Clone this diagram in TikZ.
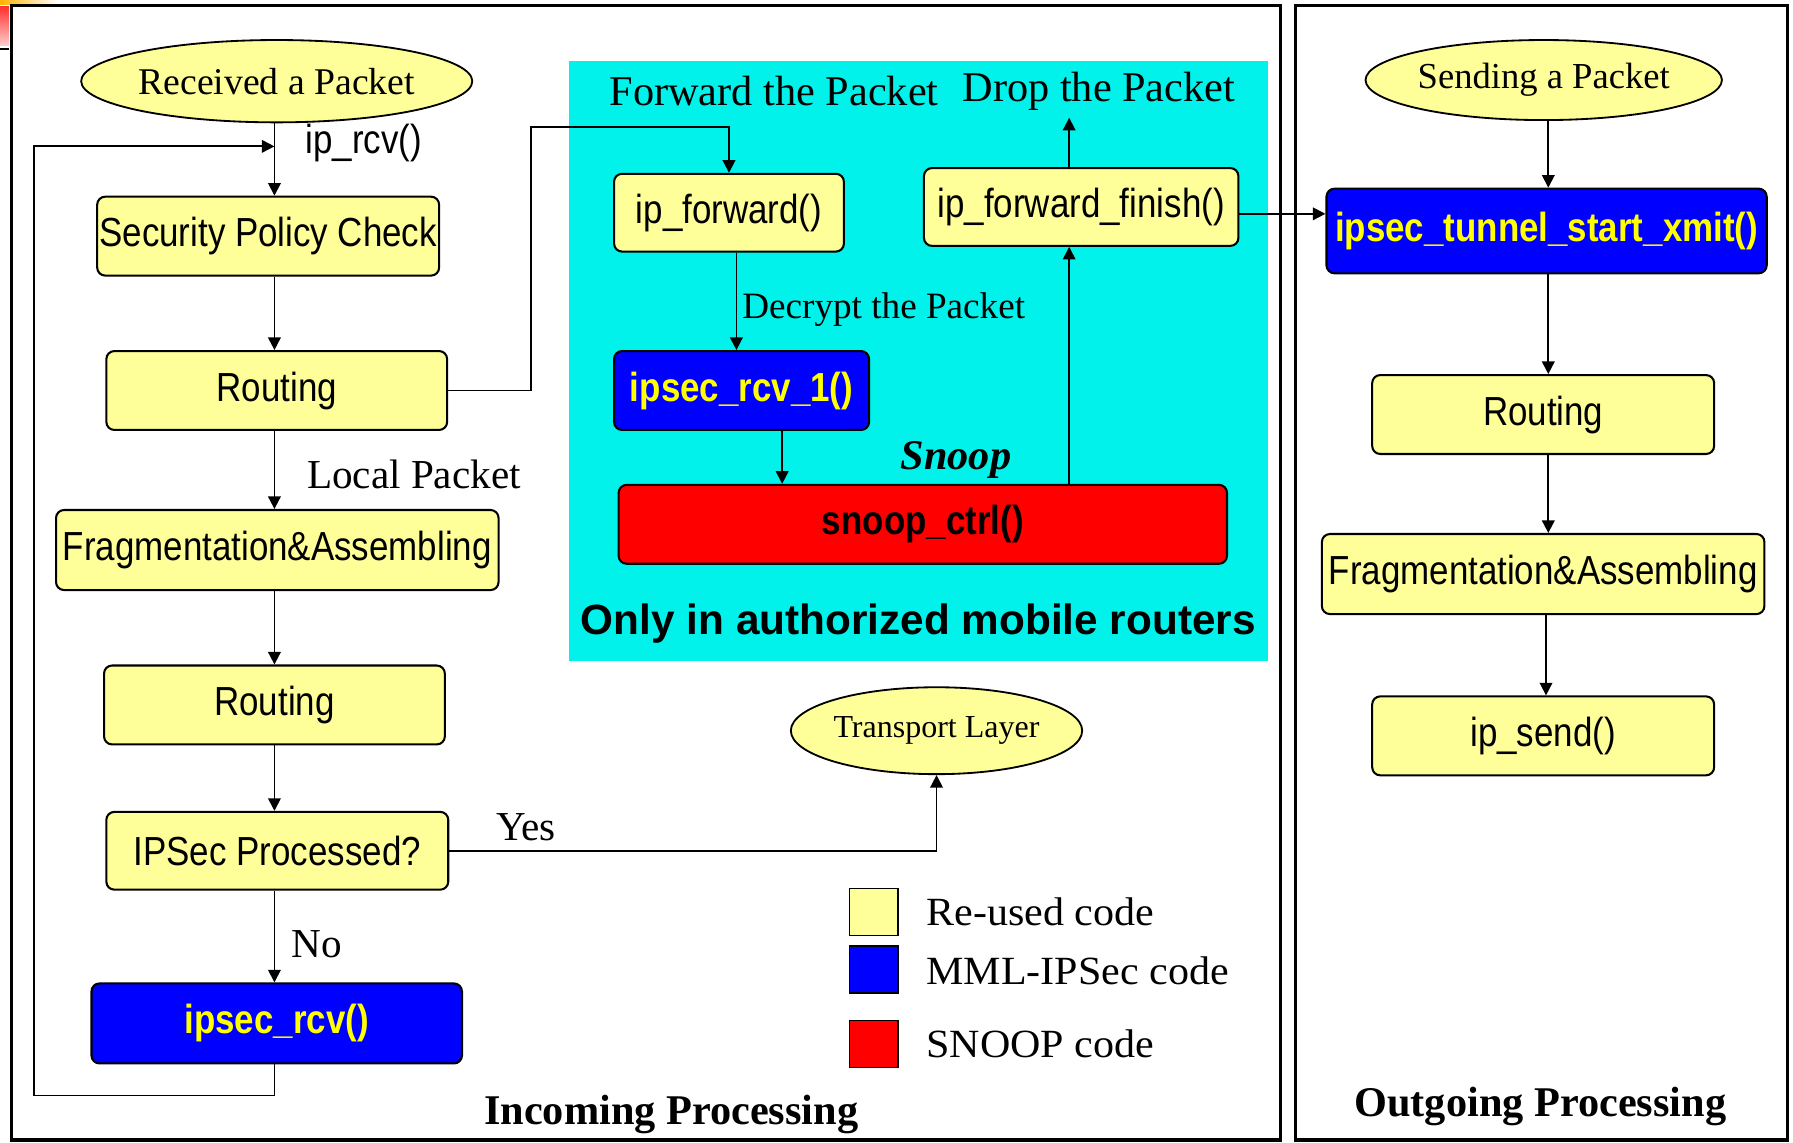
\documentclass[tikz,border=0pt]{standalone}
\usepackage{fontspec}
\setmainfont{Liberation Serif}
\newfontfamily\NarSans[FakeStretch=0.86]{Liberation Sans}
\newfontfamily\RegSans{Liberation Sans}
\newfontfamily\WideSerif[FakeStretch=1.05]{Liberation Serif}
\usetikzlibrary{shapes.geometric,arrows.meta}
\definecolor{ylw}{HTML}{FFFF99}
\definecolor{blu}{HTML}{0000FF}
\definecolor{rd}{HTML}{FF0000}
\definecolor{cyn}{HTML}{00F2EA}
\definecolor{txty}{HTML}{FFFF00}
\newcommand{\NarBox}{\NarSans\fontsize{35.5}{40}\selectfont}
\newcommand{\SerLab}{\fontsize{36}{40}\selectfont}
\tikzset{
  box/.style={draw, line width=1.8pt, rounded corners=7pt, fill=ylw, inner sep=0pt},
  bluebox/.style={box, fill=blu, text=txty},
  redbox/.style={box, fill=rd, text=black},
  oval/.style={ellipse, draw, line width=1.6pt, fill=ylw, inner sep=0pt},
  arr/.style={line width=1.6pt, -{Triangle[length=11pt,width=11pt]}},
  frame/.style={draw, line width=3pt},
  lab/.style={inner sep=0pt},
  legsq/.style={draw, line width=1.5pt, minimum width=42pt, minimum height=41pt, inner sep=0pt}
}
\begin{document}
\begin{tikzpicture}[x=1pt,y=-1pt]
\useasboundingbox (0,0) rectangle (1568,999);
\fill[white] (0,0) rectangle (1568,999);
% slide artifact top-left
\shade[left color=orange!60!yellow, right color=white] (0,0) rectangle (50,4);
\shade[top color=red!80, bottom color=red!20] (0,6) rectangle (8,40);
\draw[line width=2pt] (0,43) -- (8,43);
% frames
\draw[frame] (10,5) rectangle (1120,997);
\draw[frame] (1133,5) rectangle (1563,997);
% cyan region
\fill[cyn] (498,53) rectangle (1109,578);

% ---------- incoming column ----------
\node[oval, minimum width=255pt, minimum height=72pt] (rcv) at (242,71) {\fontsize{33}{37}\selectfont Received a Packet};
\node[box, minimum width=299pt, minimum height=69pt] (sec) at (234.5,206.5) {\NarBox Security Policy Check};
\node[box, minimum width=298pt, minimum height=69pt] (rt1) at (242,341.5) {\NarBox Routing};
\node[box, minimum width=387pt, minimum height=70pt] (frag1) at (242.5,481) {\NarBox Fragmentation\&Assembling};
\node[box, minimum width=298pt, minimum height=69pt] (rt2) at (240,616.5) {\NarBox Routing};
\node[box, minimum width=299pt, minimum height=68pt] (ipp) at (242.5,744) {\NarBox IPSec Processed?};
\node[bluebox, minimum width=324pt, minimum height=70pt] (irc) at (242,895) {\NarBox\bfseries ipsec\_rcv()};
\node[oval, minimum width=250pt, minimum height=76pt] (trans) at (819,639) {\fontsize{28}{32}\selectfont Transport Layer};

\coordinate (colL) at (240,0);
\draw[arr] (rcv.south -| colL) -- (sec.north -| colL);
\draw[arr] (sec.south -| colL) -- (rt1.north -| colL);
\draw[arr] (rt1.south -| colL) -- (frag1.north -| colL);
\draw[arr] (frag1.south -| colL) -- (rt2.north -| colL);
\draw[arr] (rt2.south -| colL) -- (ipp.north -| colL);
\draw[arr] (ipp.south -| colL) -- (irc.north -| colL);
\coordinate (lb) at (30,958);
\coordinate (lt) at (30,128);
\coordinate (lj) at (240,128);
\draw[arr] (irc.south -| colL) |- (lb) -- (lt) -- (lj);
\draw[arr] (ipp.east) -| (trans.south);

\node[lab] (iprcv) at (318,125) {\NarBox ip\_rcv()};
\node[lab] (local) at (362,415) {\SerLab Local Packet};
\node[lab] (yes) at (460,723) {\SerLab Yes};
\node[lab] (no) at (277,826) {\SerLab No};

% ---------- cyan region ----------
\node[box, minimum width=201pt, minimum height=68pt] (ipf) at (637.5,186) {\NarBox ip\_forward()};
\node[box, minimum width=275pt, minimum height=68pt] (ipff) at (945.5,181) {\NarBox ip\_forward\_finish()};
\node[bluebox, minimum width=223pt, minimum height=69pt] (ir1) at (648.5,341.5) {\NarBox\bfseries ipsec\_rcv\_1()};
\node[redbox, minimum width=532pt, minimum height=69pt] (snp) at (807,458.5) {\NarBox\bfseries snoop\_ctrl()};

\node[lab] (fwd) at (677,80) {\fontsize{37}{40}\selectfont Forward the Packet};
\node[lab] (drop) at (961,80) {\fontsize{37}{40}\selectfont Drop the Packet};
\node[lab, anchor=west] (decr) at (649,271) {\fontsize{32.5}{36}\selectfont Decrypt the Packet};
\node[lab] (snooplab) at (836,402) {\fontsize{37}{40}\selectfont\bfseries\itshape Snoop};
\node[lab] (only) at (803,545) {\RegSans\fontsize{37}{40}\selectfont\bfseries Only in authorized mobile routers};

\coordinate (fw) at (464,111);
\draw[arr] (rt1.east) -| (fw) -| (ipf.north);
\coordinate (c2) at (644,0);
\draw[arr] (ipf.south -| c2) -- (ir1.north -| c2);
\coordinate (c3) at (684,0);
\draw[arr] (ir1.south -| c3) -- (snp.north -| c3);
\coordinate (c4) at (935,0);
\draw[arr] (snp.north -| c4) -- (ipff.south -| c4);
\coordinate (dropArr) at (935,103);
\draw[arr] (ipff.north -| c4) -- (dropArr);

% ---------- outgoing column ----------
\node[oval, minimum width=252pt, minimum height=70pt] (send) at (1350,70) {\fontsize{32}{36}\selectfont Sending a Packet};
\node[bluebox, minimum width=385pt, minimum height=74pt] (itx) at (1352.5,202) {\NarBox\bfseries ipsec\_tunnel\_start\_xmit()};
\node[box, minimum width=299pt, minimum height=69pt] (rt3) at (1349.5,362.5) {\NarBox Routing};
\node[box, minimum width=387pt, minimum height=70pt] (frag3) at (1349.5,502) {\NarBox Fragmentation\&Assembling};
\node[box, minimum width=299pt, minimum height=69pt] (ips) at (1349.5,643.5) {\NarBox ip\_send()};

\coordinate (cR) at (1354,0);
\draw[arr] (send.south -| cR) -- (itx.north -| cR);
\draw[arr] (itx.south -| cR) -- (rt3.north -| cR);
\draw[arr] (rt3.south -| cR) -- (frag3.north -| cR);
\coordinate (cR2) at (1352,0);
\draw[arr] (frag3.south -| cR2) -- (ips.north -| cR2);
\coordinate (hx) at (0,187);
\draw[arr] (ipff.east |- hx) -- (itx.west |- hx);

% ---------- legend ----------
\node[legsq, fill=ylw] (lg1) at (764,797.5) {};
\node[legsq, fill=blu] (lg2) at (764,848) {};
\node[legsq, fill=rd] (lg3) at (764,913) {};
\node[lab, anchor=west] (lt1) at (810,797) {\WideSerif\fontsize{35}{40}\selectfont Re-used code};
\node[lab, anchor=west] (lt2) at (810,849) {\WideSerif\fontsize{35}{40}\selectfont MML-IPSec code};
\node[lab, anchor=west] (lt3) at (810,913) {\WideSerif\fontsize{35}{40}\selectfont SNOOP code};

% ---------- titles ----------
\node[lab] (tin) at (587,975) {\fontsize{37}{40}\selectfont\bfseries Incoming Processing};
\node[lab] (tout) at (1347,968) {\fontsize{37}{40}\selectfont\bfseries Outgoing Processing};
\end{tikzpicture}
\end{document}
